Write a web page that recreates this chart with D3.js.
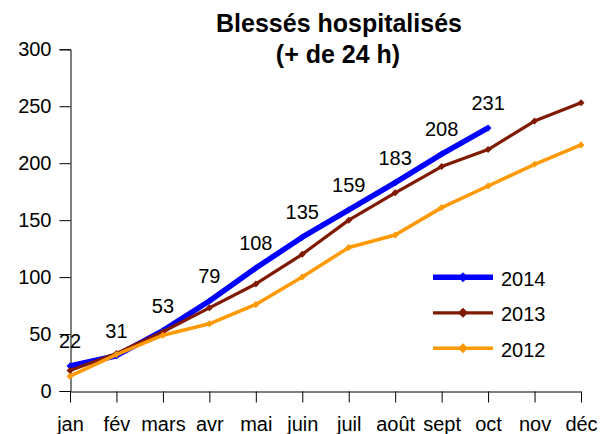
<!DOCTYPE html>
<html>
<head>
<meta charset="utf-8">
<script src="https://cdn.jsdelivr.net/npm/d3@7"></script>
<style>
  html, body { margin: 0; padding: 0; background: #fff; }
  svg { display: block; font-family: "Liberation Sans", Arial, sans-serif; }
</style>
</head>
<body>
<svg id="chart" width="613" height="434"></svg>
<script>
const months = ["jan","fév","mars","avr","mai","juin","juil","août","sept","oct","nov","déc"];
const values2014 = [22,31,53,79,108,135,159,183,208,231];
const values2013 = [18,33,52,73,94,120,150,174,197,212,237,253];
const values2012 = [13,32,49,59,76,100,126,137,161,180,199,216];
const yTicks = [0,50,100,150,200,250,300];
const titleLines = ["Blessés hospitalisés", "(+ de 24 h)"];

const series = [
  {name: "2014", values: values2014, color: "#0000FF", width: 5.5, marker: 7},
  {name: "2013", values: values2013, color: "#7F1A00", width: 3.2, marker: 7},
  {name: "2012", values: values2012, color: "#FF9900", width: 3.5, marker: 7}
];

const svg = d3.select("#chart");
const x = d3.scalePoint().domain(months).range([70, 581]);
const y = d3.scaleLinear().domain([0, 300]).range([391, 49.3]);

// Title
svg.append("text").attr("x", 339).attr("y", 32).attr("text-anchor", "middle")
  .attr("font-size", 25).attr("font-weight", "bold").text(titleLines[0]);
svg.append("text").attr("x", 338).attr("y", 63).attr("text-anchor", "middle")
  .attr("font-size", 25).attr("font-weight", "bold").text(titleLines[1]);

// Y axis
const yAxis = svg.append("g").attr("transform", "translate(70.5,0)")
  .call(d3.axisLeft(y).tickValues(yTicks).tickSize(11).tickPadding(8));
yAxis.select(".domain").attr("stroke", "#000");
yAxis.selectAll("line").attr("stroke", "#000");
yAxis.selectAll("text").attr("font-size", 20).attr("fill", "#000")
  .attr("font-family", "Liberation Sans, Arial, sans-serif");

// X axis
const xAxis = svg.append("g").attr("transform", "translate(0," + (y(0) + 0.5) + ")")
  .call(d3.axisBottom(x).tickSize(11).tickSizeOuter(0).tickPadding(14));
xAxis.select(".domain").attr("stroke", "#000");
xAxis.selectAll("line").attr("stroke", "#000");
xAxis.selectAll("text").attr("font-size", 20).attr("fill", "#000")
  .attr("font-family", "Liberation Sans, Arial, sans-serif");

const line = d3.line().x((d, i) => x(months[i])).y(d => y(d));
const diamond = (s) => `M0,${-s/2}L${s/2},0L0,${s/2}L${-s/2},0Z`;

series.forEach(s => {
  const g = svg.append("g");
  g.append("path").datum(s.values).attr("d", line)
    .attr("fill", "none").attr("stroke", s.color).attr("stroke-width", s.width)
    .attr("stroke-linejoin", "round");
  g.selectAll("path.m").data(s.values).enter().append("path").attr("class", "m")
    .attr("transform", (d, i) => `translate(${x(months[i])},${y(d)})`)
    .attr("d", diamond(s.marker)).attr("fill", s.color);
});

// Data labels for 2014
svg.append("g").selectAll("text").data(values2014).enter().append("text")
  .attr("x", (d, i) => x(months[i]))
  .attr("y", d => y(d) - 18)
  .attr("text-anchor", "middle").attr("font-size", 20).text(d => d);

// Legend
const legend = svg.append("g");
series.forEach((s, i) => {
  const ly = 277.3 + i * 35.5;
  legend.append("line").attr("x1", 433).attr("x2", 493).attr("y1", ly).attr("y2", ly)
    .attr("stroke", s.color).attr("stroke-width", s.width);
  legend.append("path").attr("transform", `translate(463,${ly})`)
    .attr("d", diamond(10)).attr("fill", s.color);
  legend.append("text").attr("x", 501).attr("y", ly + 8.5)
    .attr("font-size", 20).text(s.name);
});
</script>
</body>
</html>
